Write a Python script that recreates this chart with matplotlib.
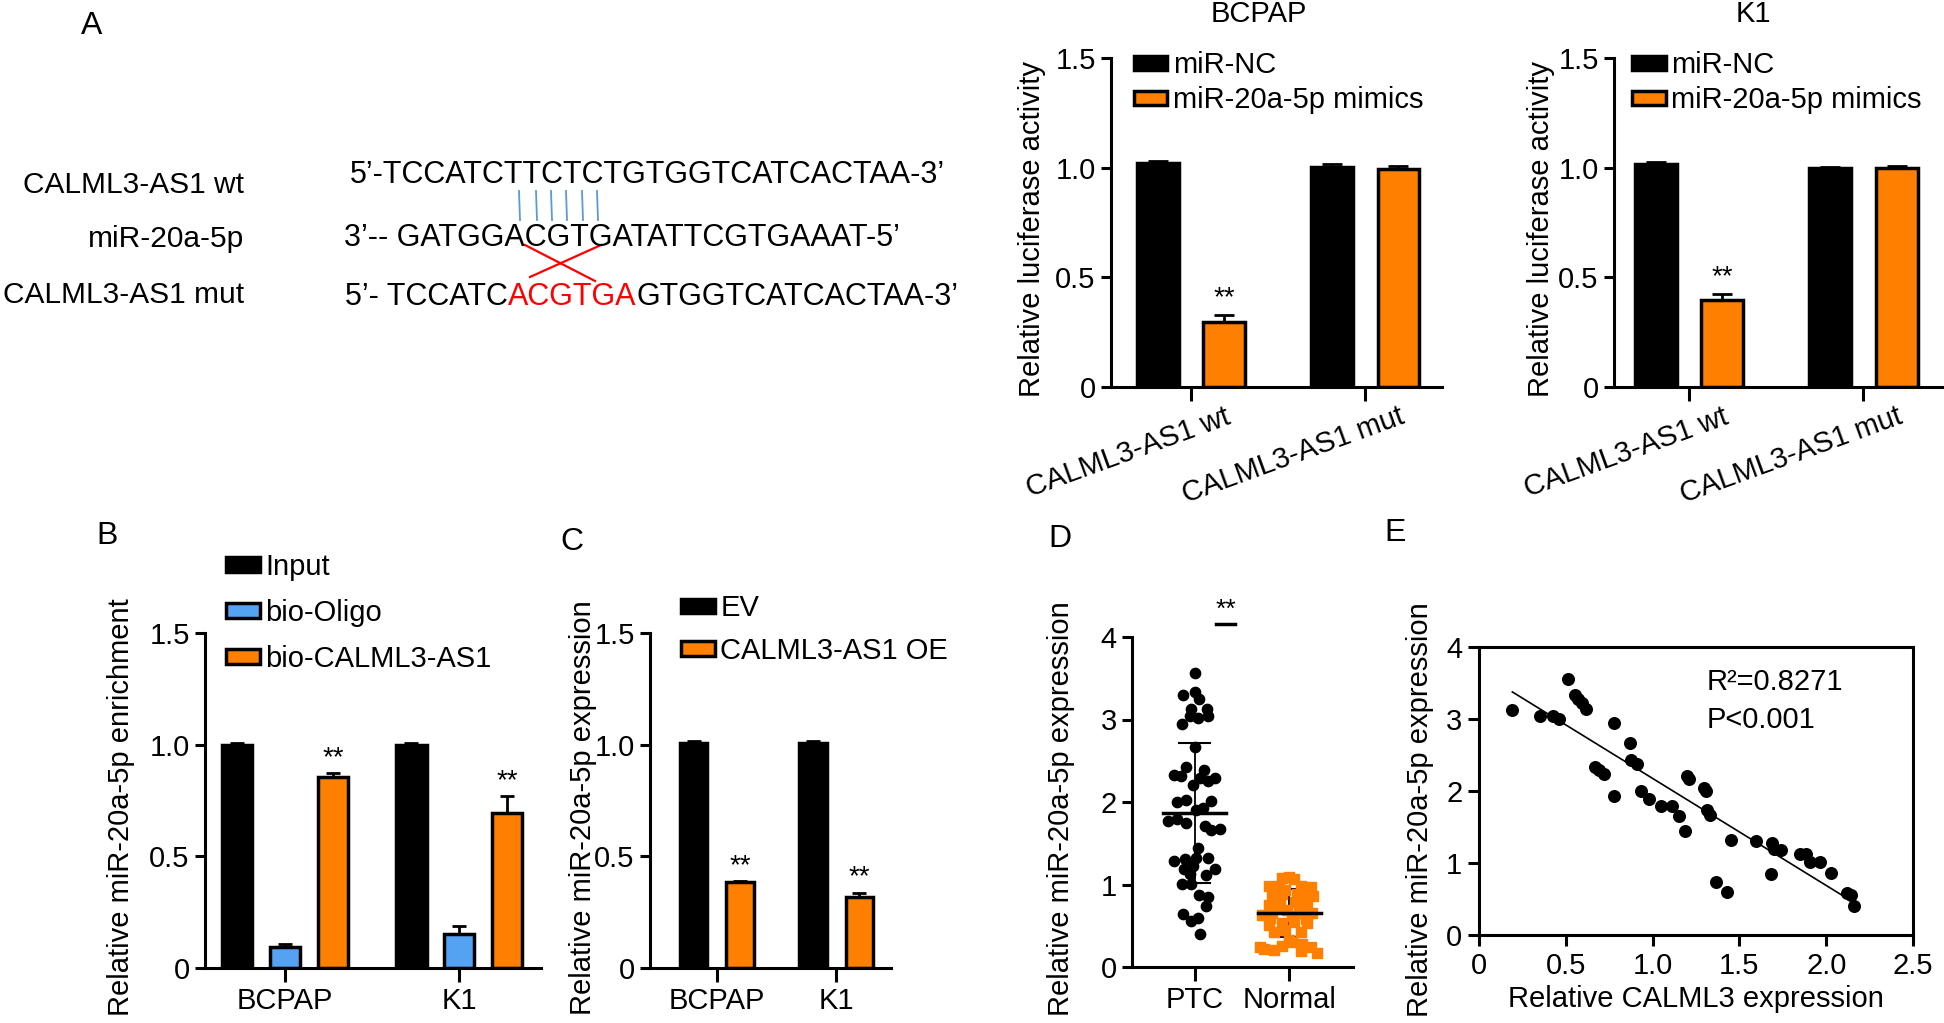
import numpy as np
import matplotlib.pyplot as plt
from matplotlib.patches import Patch
from matplotlib.transforms import ScaledTranslation

plt.rcParams['font.family'] = ['Liberation Sans', 'DejaVu Sans']
plt.rcParams['font.size'] = 21

ORANGE = '#FF8000'
BLUE = '#55A2F2'
W, H = 1944, 1023

# ---------------- data ----------------
# A: binding site
seq_labels = ['CALML3-AS1 wt', 'miR-20a-5p', 'CALML3-AS1 mut']
seq_wt = '5’-TCCATCTTCTCTGTGGTCATCACTAA-3’'
seq_mir = '3’-- GATGGACGTGATATTCGTGAAAT-5’'
seq_mut = ['5’- TCCATC', 'ACGTGA', 'GTGGTCATCACTAA-3’']

# A: luciferase
luc_groups = ['CALML3-AS1 wt', 'CALML3-AS1 mut']
luc_series = ['miR-NC', 'miR-20a-5p mimics']
bcpap_nc = [1.023, 1.002]
bcpap_nc_err = [0.008, 0.015]
bcpap_mim = [0.297, 0.996]
bcpap_mim_err = [0.030, 0.012]
k1_nc = [1.016, 0.997]
k1_nc_err = [0.012, 0.004]
k1_mim = [0.396, 1.000]
k1_mim_err = [0.027, 0.008]

# B: pull-down
cell_lines = ['BCPAP', 'K1']
pull_series = ['Input', 'bio-Oligo', 'bio-CALML3-AS1']
pull_input = [0.997, 1.000]
pull_input_err = [0.010, 0.008]
pull_oligo = [0.094, 0.152]
pull_oligo_err = [0.013, 0.035]
pull_bio = [0.855, 0.694]
pull_bio_err = [0.018, 0.075]

# C: overexpression
oe_series = ['EV', 'CALML3-AS1 OE']
oe_ev = [1.009, 1.008]
oe_ev_err = [0.008, 0.010]
oe_oe = [0.383, 0.320]
oe_oe_err = [0.006, 0.018]

# D: tissues
tissue_groups = ['PTC', 'Normal']
ptc_vals = [3.56, 3.30, 3.33, 3.25, 3.13, 3.13, 3.04, 3.02, 3.04, 2.95,
            2.67, 2.42, 2.39, 2.33, 2.31, 2.29, 2.29, 2.21, 2.25, 2.00,
            2.03, 2.01, 1.93, 1.90, 1.77, 1.79, 1.75, 1.71, 1.66, 1.67,
            1.44, 1.28, 1.31, 1.32, 1.32, 1.19, 1.23, 1.12, 1.19, 1.01,
            1.01, 1.13, 0.87, 0.85, 0.74, 0.64, 0.56, 0.59, 0.40]
ptc_jitter = [0.0, -0.124, 0.0, 0.043, -0.035, 0.135, -0.053, 0.035, 0.142, -0.131,
              0.0, -0.089, 0.099, -0.22, -0.142, 0.053, 0.213, -0.018, 0.142, -0.184,
              -0.089, 0.177, 0.089, 0.018, -0.284, -0.184, -0.089, 0.106, 0.170, 0.266,
              0.035, -0.213, -0.106, 0.018, 0.142, -0.113, -0.018, 0.124, 0.22, -0.135,
              -0.035, -0.053, 0.043, 0.142, 0.124, -0.124, -0.043, 0.035, 0.053]
normal_vals = [1.09, 1.08, 1.07, 0.98, 0.98, 0.98, 0.97, 0.85, 0.89, 0.89,
               0.85, 0.75, 0.77, 0.79, 0.77, 0.63, 0.66, 0.69, 0.65, 0.66,
               0.51, 0.53, 0.55, 0.53, 0.43, 0.45, 0.43, 0.33, 0.22, 0.21,
               0.25, 0.30, 0.28, 0.24, 0.17, 0.20, 0.24, 0.93, 0.92, 0.71,
               0.72, 0.60, 0.62, 0.58, 0.80, 0.86]
normal_jitter = [-0.007, -0.078, 0.046, -0.22, -0.114, 0.117, 0.223, -0.185, -0.078, 0.081,
                 0.152, -0.22, -0.096, 0.063, 0.188, -0.29, -0.185, -0.025, 0.099, 0.241,
                 -0.22, -0.078, 0.046, 0.188, -0.167, -0.043, 0.117, -0.007, -0.273, -0.167,
                 -0.078, 0.028, 0.134, 0.223, 0.294, 0.117, -0.309, -0.05, 0.15, -0.14,
                 0.13, -0.2, 0.03, 0.17, -0.1, 0.25]
ptc_mean, ptc_sd = 1.87, 0.85
normal_mean, normal_sd = 0.65, 0.29

# E: correlation
calml3 = [0.192, 0.351, 0.428, 0.462, 0.510, 0.552, 0.572, 0.596, 0.614, 0.779,
          0.869, 0.875, 0.913, 0.667, 0.692, 0.719, 0.777, 0.932, 0.980, 1.051,
          1.114, 1.153, 1.185, 1.199, 1.210, 1.297, 1.306, 1.316, 1.333, 1.364,
          1.431, 1.450, 1.598, 1.690, 1.697, 1.741, 1.684, 1.847, 1.885, 1.904,
          1.966, 2.029, 2.119, 2.144, 2.160]
mir20a = [3.13, 3.04, 3.04, 3.00, 3.56, 3.33, 3.28, 3.22, 3.14, 2.94,
          2.66, 2.43, 2.38, 2.33, 2.29, 2.23, 1.93, 2.00, 1.89, 1.79,
          1.79, 1.65, 1.45, 2.21, 2.17, 2.04, 2.00, 1.74, 1.67, 0.73,
          0.60, 1.32, 1.31, 1.28, 1.19, 1.18, 0.85, 1.12, 1.12, 1.01,
          1.01, 0.86, 0.59, 0.55, 0.40]
r2_text = 'R²=0.8271'
p_text = 'P<0.001'

# ---------------- figure ----------------
fig = plt.figure(figsize=(W / 100, H / 100), dpi=100)


def px_axes(left, top, right, bottom):
    return fig.add_axes([left / W, 1 - bottom / H, (right - left) / W, (bottom - top) / H])


def style(ax, ymax, ticks, labels):
    for s in ['top', 'right']:
        ax.spines[s].set_visible(False)
    for s in ['left', 'bottom']:
        ax.spines[s].set_linewidth(2.2)
    ax.set_ylim(0, ymax)
    ax.set_yticks(ticks)
    ax.set_yticklabels(labels)
    ax.tick_params(axis='y', length=7, width=2.2, pad=4)
    ax.tick_params(axis='x', length=10, width=2.2, pad=4)


def bars(ax, vals, errs, colors, width, offsets, cap):
    x = np.arange(len(vals[0]))
    for v, e, c, off in zip(vals, errs, colors, offsets):
        ax.errorbar(x + off, v, yerr=[np.zeros(len(v)), e], fmt='none', ecolor='black',
                    elinewidth=2, capsize=cap, capthick=2, zorder=1)
        ax.bar(x + off, v, width, color=c, edgecolor='black', linewidth=2.5, zorder=2)


def legend(ax, colors, labels, x, y, spacing):
    hs = [Patch(facecolor=c, edgecolor='black', linewidth=2.5, label=l) for c, l in zip(colors, labels)]
    ax.legend(handles=hs, loc='upper left', bbox_to_anchor=(x, y), frameon=False, borderpad=0,
              borderaxespad=0, handlelength=1.15, handleheight=0.4, handletextpad=0.2,
              labelspacing=spacing, fontsize=21)


# overlay in pixel coordinates for the sequence diagram and panel letters
ov = fig.add_axes([0, 0, 1, 1], zorder=-1)
ov.set_xlim(0, W)
ov.set_ylim(H, 0)
ov.axis('off')

for letter, (lx, ly) in zip('ABCDE', [(92, 26), (107, 536), (572, 542), (1060, 539), (1395, 533)]):
    ov.text(lx, ly, letter, fontsize=23, ha='center', va='center')

for lab, y in zip(seq_labels, [185, 239, 295]):
    ov.text(244, y, lab, ha='right', va='center', fontsize=21.5)
ov.text(350, 175, seq_wt, ha='left', va='center', fontsize=22)
ov.text(344, 238, seq_mir, ha='left', va='center', fontsize=22)
t = ov.text(345, 297, seq_mut[0], ha='left', va='center', fontsize=22)
for piece, col in zip(seq_mut[1:], ['red', 'black']):
    t = ov.annotate(piece, xy=(1, 0), xycoords=t, va='bottom', fontsize=22, color=col)

for bx in [519, 536, 551, 566, 582, 597]:
    ov.plot([bx, bx + 1], [191, 220], color='#5B9BD5', lw=1.3)
ov.plot([525, 595], [245, 281], color='red', lw=1.6)
ov.plot([601, 530], [245, 277], color='red', lw=1.6)

# ---- A: luciferase, BCPAP and K1 ----
shift = ScaledTranslation(0.33, 0.04, fig.dpi_scale_trans)
for (left, right, xl), title, tx, nc, nce, mim, mime in [
        ((1111, 1442, (-0.46, 1.44)), 'BCPAP', 0.447, bcpap_nc, bcpap_nc_err, bcpap_mim, bcpap_mim_err),
        ((1614, 1942, (-0.43, 1.45)), 'K1', 0.424, k1_nc, k1_nc_err, k1_mim, k1_mim_err)]:
    ax = px_axes(left, 58, right, 387)
    bars(ax, [nc, mim], [nce, mime], ['black', ORANGE], 0.24, [-0.19, 0.19], 7)
    style(ax, 1.5, [0, 0.5, 1.0, 1.5], ['0', '0.5', '1.0', '1.5'])
    ax.set_xlim(*xl)
    ax.set_xticks([0, 1])
    ax.set_xticklabels(luc_groups, rotation=20, ha='right', rotation_mode='anchor')
    for lbl in ax.get_xticklabels():
        lbl.set_transform(lbl.get_transform() + shift)
    ax.set_ylabel('Relative luciferase activity')
    ax.yaxis.set_label_coords(-0.196 if title == 'BCPAP' else -0.18, 0.48)
    ax.text(tx, 1.135, title, transform=ax.transAxes, ha='center', va='center', fontsize=21)
    ax.text(0.19, mim[0] + mime[0] + 0.02, '**', ha='center', va='bottom', fontsize=20)
    legend(ax, ['black', ORANGE], luc_series, 0.069 if title == 'BCPAP' else 0.055, 1.02, 0.24)

# ---- B: pull-down ----
ax = px_axes(205, 633, 541, 968)
bars(ax, [pull_input, pull_oligo, pull_bio], [pull_input_err, pull_oligo_err, pull_bio_err],
     ['black', BLUE, ORANGE], 0.175, [-0.275, 0, 0.275], 5)
style(ax, 1.5, [0, 0.5, 1.0, 1.5], ['0', '0.5', '1.0', '1.5'])
ax.set_xlim(-0.46, 1.47)
ax.set_xticks([0, 1])
ax.set_xticklabels(cell_lines)
ax.set_ylabel('Relative miR-20a-5p enrichment')
ax.yaxis.set_label_coords(-0.209, 0.48)
for i in range(2):
    ax.text(i + 0.275, pull_bio[i] + pull_bio_err[i] + 0.01, '**', ha='center', va='bottom', fontsize=20)
legend(ax, ['black', BLUE, ORANGE], pull_series, 0.063, 1.24, 0.62)

# ---- C: overexpression ----
ax = px_axes(650, 633, 891, 968)
bars(ax, [oe_ev, oe_oe], [oe_ev_err, oe_oe_err], ['black', ORANGE], 0.23, [-0.195, 0.195], 5)
style(ax, 1.5, [0, 0.5, 1.0, 1.5], ['0', '0.5', '1.0', '1.5'])
ax.set_xlim(-0.56, 1.46)
ax.set_xticks([0, 1])
ax.set_xticklabels(cell_lines)
ax.set_ylabel('Relative miR-20a-5p expression')
ax.yaxis.set_label_coords(-0.22, 0.478)
for i in range(2):
    ax.text(i + 0.195, oe_oe[i] + oe_oe_err[i] + 0.01, '**', ha='center', va='bottom', fontsize=20)
legend(ax, ['black', ORANGE], oe_series, 0.129, 1.115, 0.5)

# ---- D: tissues ----
ax = px_axes(1132, 637, 1353, 967)
ax.scatter(np.array(ptc_jitter), ptc_vals, s=55, color='black', zorder=2, clip_on=False)
ax.scatter(1 + np.array(normal_jitter), normal_vals, s=48, marker='s', color=ORANGE, zorder=2,
           clip_on=False)
for x, m, sd, z in [(0, ptc_mean, ptc_sd, 3), (1, normal_mean, normal_sd, 1)]:
    ax.plot([x - 0.33, x + 0.33], [m, m], color='black', lw=2.5, zorder=3)
    ax.plot([x, x], [m - sd, m + sd], color='black', lw=1.3, zorder=z)
    for yy in [m - sd, m + sd]:
        ax.plot([x - 0.16, x + 0.16], [yy, yy], color='black', lw=1.5, zorder=z)
style(ax, 4, [0, 1, 2, 3, 4], ['0', '1', '2', '3', '4'])
ax.set_xlim(-0.66, 1.67)
ax.set_xticks([0, 1])
ax.set_xticklabels(tissue_groups)
ax.set_ylabel('Relative miR-20a-5p expression')
ax.yaxis.set_label_coords(-0.257, 0.48)
ax.plot([0.23, 0.43], [4.16, 4.16], color='black', lw=2.5, clip_on=False)
ax.text(0.33, 4.18, '**', ha='center', va='bottom', fontsize=19)

# ---- E: correlation ----
ax = px_axes(1479, 647, 1913, 935)
ax.scatter(calml3, mir20a, s=70, color='black', zorder=3, clip_on=False)
k, b = np.polyfit(calml3, mir20a, 1)
xs = np.array([min(calml3), max(calml3)])
ax.plot(xs, k * xs + b, color='black', lw=1.2)
for s in ax.spines.values():
    s.set_linewidth(2.2)
ax.set_xlim(0, 2.5)
ax.set_ylim(0, 4)
ax.set_xticks([0, 0.5, 1.0, 1.5, 2.0, 2.5])
ax.set_xticklabels(['0', '0.5', '1.0', '1.5', '2.0', '2.5'])
ax.set_yticks([0, 1, 2, 3, 4])
ax.set_yticklabels(['0', '1', '2', '3', '4'])
ax.tick_params(length=8, width=2.2, pad=4)
ax.set_xlabel('Relative CALML3 expression', labelpad=4)
ax.set_ylabel('Relative miR-20a-5p expression')
ax.yaxis.set_label_coords(-0.104, 0.434)
ax.text(1.31, 3.40, r2_text, fontsize=21, va='baseline')
ax.text(1.31, 2.88, p_text, fontsize=21, va='baseline')

fig.savefig('out.png', dpi=100)
